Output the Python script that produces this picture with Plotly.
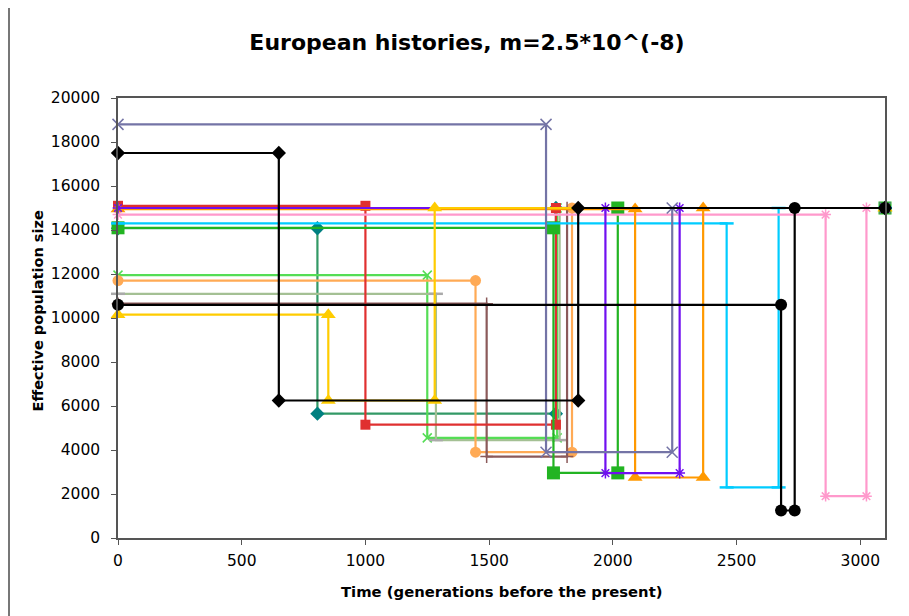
import plotly.graph_objects as go

# ---- data ----
series_names = ["teal", "light green", "sage", "light orange", "brown", "red", "green",
                "cyan", "pink", "orange", "purple", "yellow", "slate", "black diamond", "black circle"]
t1_values = [806, 1250, 1285, 1445, 1490, 1000, 1760, 2460, 2860, 2090, 1970, 850, 1730, 650, 2680]
t2_values = [1770, 1775, 1785, 1835, 1815, 1770, 2020, 2670, 3025, 2365, 2270, 1280, 2240, 1860, 2735]
n_recent = [14080, 11950, 11100, 11700, 10650, 15100, 14100, 14300, 14700, 14950, 15000, 10150, 18800, 17500, 10600]
n_bottleneck = [5650, 4550, 4450, 3900, 3700, 5150, 2960, 2300, 1900, 2750, 2950, 6250, 3900, 6250, 1250]
n_ancestral = [15000] * 15
t_end = 3100
x_ticks = [0, 500, 1000, 1500, 2000, 2500, 3000]
y_ticks = [0, 2000, 4000, 6000, 8000, 10000, 12000, 14000, 16000, 18000, 20000]

line_colors = ["#339966", "#55DD55", "#A4C094", "#FFAA55", "#8B5A5A", "#E03030", "#22B422",
               "#00CCFF", "#FF99CC", "#FF9900", "#7010F0", "#FFCC00", "#7474A6", "#000000", "#000000"]
marker_colors = ["#008080", "#55DD55", "#AAAAAA", "#FFAA55", "#8B5A5A", "#E03030", "#22B422",
                 "#00CCFF", "#FF99CC", "#FF9900", "#7010F0", "#FFCC00", "#7474A6", "#000000", "#000000"]
marker_symbols = ["diamond", "x-thin-open", "line-ew-open", "circle", "cross-thin-open", "square", "square",
                  "line-ew-open", "asterisk-open", "triangle-up", "asterisk-open", "triangle-up",
                  "x-thin-open", "diamond", "circle"]
marker_sizes = [11, 9, 10, 11, 9, 10, 13, 10, 9, 13, 9, 13, 11, 11, 12]

fig = go.Figure()
for i, name in enumerate(series_names):
    xs = [0, t1_values[i], t1_values[i], t2_values[i], t2_values[i], t_end]
    ys = [n_recent[i], n_recent[i], n_bottleneck[i], n_bottleneck[i], n_ancestral[i], n_ancestral[i]]
    sym = marker_symbols[i]
    is_open = sym.endswith("open")
    fig.add_trace(go.Scatter(
        x=xs, y=ys, mode="lines+markers", name=name,
        line=dict(color=line_colors[i], width=2.2),
        marker=dict(symbol=sym, size=marker_sizes[i], color=marker_colors[i],
                    line=dict(color=marker_colors[i], width=(2.5 if sym == "line-ew-open" else 1.5) if is_open else 0)),
        cliponaxis=False,
        showlegend=False,
    ))

font_family = "DejaVu Sans, Verdana, sans-serif"
# The page body has an 8px margin, so the figure is sized and placed to compensate.
fig.update_layout(
    width=901, height=608,
    margin=dict(l=110, r=24, t=90, b=78),
    paper_bgcolor="white", plot_bgcolor="white",
    font=dict(family=font_family, color="#000000"),
    title=dict(text="<b>European histories, m=2.5*10^(-8)</b>", x=459 / 901, xanchor="center",
               y=1 - 34 / 608, yanchor="middle", font=dict(size=22, family=font_family, color="#000")),
    xaxis=dict(range=[0, 3100], tickvals=x_ticks, ticktext=[str(v) for v in x_ticks],
               showgrid=False, zeroline=False, showline=True, linecolor="#555555", linewidth=1.5,
               mirror=True, ticks="outside", ticklen=5, tickcolor="#555555",
               tickfont=dict(size=15.5, family=font_family), ticklabelstandoff=3),
    yaxis=dict(range=[0, 20000], tickvals=y_ticks, ticktext=[str(v) for v in y_ticks],
               showgrid=False, zeroline=False, showline=True, linecolor="#555555", linewidth=1.5,
               mirror=True, ticks="outside", ticklen=5, tickcolor="#555555",
               tickfont=dict(size=15.5, family=font_family), ticklabelstandoff=8),
    annotations=[
        dict(text="<b>Time (generations before the present)</b>", xref="paper", yref="paper",
             x=0.5, y=-(591 - 538) / 440, xanchor="center", yanchor="middle", showarrow=False,
             font=dict(size=14.8, family=font_family)),
        dict(text="<b>Effective population size</b>", xref="paper", yref="paper",
             x=-(118 - 37.5) / 767, y=0.5 + (318 - 311) / 440, xanchor="center", yanchor="middle",
             textangle=-90, showarrow=False, font=dict(size=14.5, family=font_family)),
    ],
    shapes=[
        dict(type="line", xref="paper", yref="paper", x0=-109 / 767, x1=-109 / 767,
             y0=-78 / 440, y1=1 + 98 / 440, line=dict(color="#777777", width=2)),
    ],
)

fig.write_html("out.html")
